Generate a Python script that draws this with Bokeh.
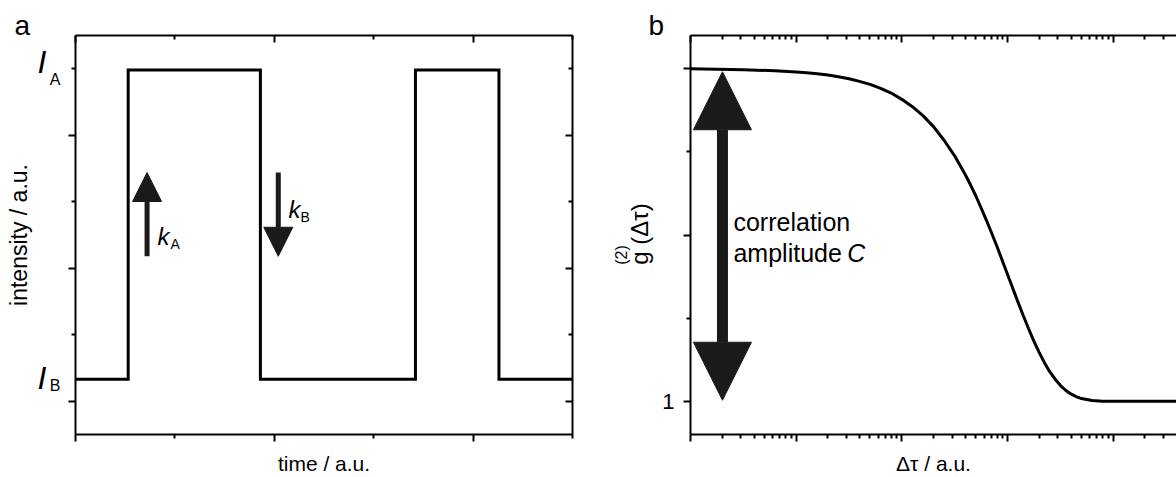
from bokeh.plotting import figure
from bokeh.layouts import row
from bokeh.models import (LinearAxis, LogAxis, FixedTicker, Label, Arrow, Title,
                          NormalHead, CustomJSTickFormatter, Range1d)
from bokeh.embed import file_html
from bokeh.resources import INLINE

FONT = "Liberation Sans"
INK = "#1a1a1a"

# ---------------- panel a: two-state intensity trace ----------------
time_edges = [0.0, 0.53, 1.86, 3.42, 4.26, 5.0]
intensity_levels = [0.33, 4.98, 0.33, 4.98, 0.33, 0.33]
a_xticks = [0, 2, 4]
a_xminor = [1, 3, 5]
a_yticks = [0, 2, 4]
a_yminor = [1, 3, 5]
# where the state labels I_A / I_B sit on the intensity axis
state_I_pos = [5.10, 0.35]
state_sub_pos = [4.84, 0.23]

# ---------------- panel b: correlation function ----------------
delta_tau = [1, 3.16, 6.31, 10, 12.59, 15.85, 19.95, 25.12, 31.62, 39.81, 50.12,
             63.1, 79.43, 100, 125.9, 158.5, 199.5, 251.2, 316.2,
             398.1, 446.7, 501.2, 562.3, 631.0, 707.9, 794.3, 891.3, 1000,
             1122, 1259, 1413, 1585, 1778, 1995, 2239, 2512, 2818, 3162, 3548,
             3981, 4467, 5012, 6310, 7943, 10000, 39811]
g2 = [2.000, 1.997, 1.994, 1.990, 1.988, 1.985, 1.981, 1.976, 1.970, 1.962, 1.953,
      1.941, 1.927, 1.908, 1.886, 1.859, 1.826, 1.785,
      1.738, 1.682, 1.651, 1.618, 1.582, 1.545, 1.506, 1.466, 1.424, 1.382,
      1.340, 1.298, 1.257, 1.218, 1.181, 1.147, 1.116, 1.089, 1.067, 1.048,
      1.033, 1.022, 1.014, 1.008, 1.002, 1.000, 1.000, 1.000]
b_yticks = [1.0, 1.5, 2.0]
b_yminor = [1.25, 1.75]
b_xticks = [1, 10, 100, 1000, 10000]
b_xminor = [m * 10 ** d for d in range(5) for m in range(2, 10)]
# positions of the pieces of the g(2)(Δτ) axis title along the y axis
title_g_pos = [1.431, 1.533]
title_sup_pos = [1.440]


def style_axis(ax, side, label_size=None):
    ax.axis_line_width = 2
    ax.axis_line_color = "black"
    ax.major_tick_line_width = 2
    ax.minor_tick_line_width = 2
    ax.major_tick_line_color = "black"
    ax.minor_tick_line_color = "black"
    if side in ("below", "left"):
        ax.major_tick_out, ax.major_tick_in = 7, 0
        ax.minor_tick_out, ax.minor_tick_in = 4, 0
    else:
        ax.major_tick_out, ax.major_tick_in = 0, 7
        ax.minor_tick_out, ax.minor_tick_in = 0, 4
    ax.axis_label_text_font = FONT
    ax.axis_label_text_font_style = "normal"
    ax.axis_label_text_color = "black"
    if label_size:
        ax.axis_label_text_font_size = label_size


def hide_labels(ax):
    ax.formatter = CustomJSTickFormatter(code="return ''")
    ax.major_label_text_font_size = "0px"
    ax.major_label_standoff = 0


def text_axis(ticks, code, size, standoff, italic=False, orientation="horizontal"):
    ax = LinearAxis(ticker=FixedTicker(ticks=ticks, minor_ticks=[]),
                    formatter=CustomJSTickFormatter(code=code))
    ax.axis_line_color = None
    ax.major_tick_line_color = None
    ax.minor_tick_line_color = None
    ax.major_tick_out = ax.major_tick_in = 0
    ax.minor_tick_out = ax.minor_tick_in = 0
    ax.major_label_text_font = FONT
    ax.major_label_text_font_size = size
    ax.major_label_text_color = "black"
    ax.major_label_text_font_style = "italic" if italic else "normal"
    ax.major_label_standoff = standoff
    ax.major_label_orientation = orientation
    ax.axis_label_text_font = FONT
    ax.axis_label_text_font_style = "normal"
    ax.axis_label_text_color = "black"
    return ax


def lab(p, x, y, text, size, italic=False):
    p.add_layout(Label(x=x, y=y, text=text, text_font=FONT,
                       text_font_size=size,
                       text_font_style="italic" if italic else "normal",
                       text_color="black", text_align="left",
                       text_baseline="alphabetic"))


def panel_title(p, text, offset):
    t = p.title
    t.text = text
    t.align = "left"
    t.offset = offset
    t.standoff = -10
    t.text_font = FONT
    t.text_font_size = "28px"
    t.text_font_style = "normal"
    t.text_color = "black"
    t.vertical_align = "bottom"
    if "padding" in Title.properties():
        t.padding = 0


# ================= panel a =================
pa = figure(width=600, height=477, x_range=Range1d(0, 5), y_range=Range1d(-0.5, 5.5),
            output_backend="svg", toolbar_location=None, title="a",
            min_border_left=75, min_border_right=28, min_border_top=35,
            min_border_bottom=41)
pa.outline_line_color = None
pa.xgrid.visible = False
pa.ygrid.visible = False
pa.background_fill_color = "white"
pa.border_fill_color = "white"
panel_title(pa, "a", -61)

xt = FixedTicker(ticks=a_xticks, minor_ticks=a_xminor)
yt = FixedTicker(ticks=a_yticks, minor_ticks=a_yminor)

bx = pa.xaxis[0]
bx.ticker = xt
bx.axis_label = "time / a.u."
bx.axis_label_standoff = 10
style_axis(bx, "below", "21px")
hide_labels(bx)

ly = pa.yaxis[0]
ly.ticker = yt
style_axis(ly, "left")
hide_labels(ly)

ax_sub = text_axis(state_sub_pos, "return tick > 2 ? 'A' : 'B'", "16px", 8)
pa.add_layout(ax_sub, "left")
ax_I = text_axis(state_I_pos, "return 'I'", "32px", 0, italic=True)
ax_I.axis_label = "intensity / a.u."
ax_I.axis_label_text_font_size = "23px"
ax_I.axis_label_standoff = 3
pa.add_layout(ax_I, "left")

tx = LinearAxis(ticker=xt)
style_axis(tx, "above")
hide_labels(tx)
pa.add_layout(tx, "above")

ry = LinearAxis(ticker=yt)
style_axis(ry, "right")
hide_labels(ry)
pa.add_layout(ry, "right")

pa.step(time_edges, intensity_levels, mode="after", line_width=3,
        line_color="black", line_join="miter")

pa.add_layout(Arrow(x_start=0.72, y_start=2.18, x_end=0.72, y_end=3.44,
                    line_width=5, line_color=INK,
                    end=NormalHead(size=29, fill_color=INK, line_color=INK, line_width=1)))
pa.add_layout(Arrow(x_start=2.04, y_start=3.44, x_end=2.04, y_end=2.18,
                    line_width=5, line_color=INK,
                    end=NormalHead(size=29, fill_color=INK, line_color=INK, line_width=1)))

lab(pa, 0.825, 2.478, "k", "24px", italic=True)
lab(pa, 0.956, 2.358, "A", "14px")
lab(pa, 2.143, 2.882, "k", "24px", italic=True)
lab(pa, 2.264, 2.777, "B", "14px")

# ================= panel b =================
pb = figure(width=576, height=477, x_axis_type="log",
            x_range=Range1d(1, 10 ** 4.6), y_range=Range1d(0.9, 2.1),
            output_backend="svg", toolbar_location=None, title="b",
            min_border_left=90, min_border_right=0, min_border_top=35,
            min_border_bottom=41)
pb.outline_line_color = None
pb.xgrid.visible = False
pb.ygrid.visible = False
pb.background_fill_color = "white"
pb.border_fill_color = "white"
panel_title(pb, "b", -42)

lxt = FixedTicker(ticks=b_xticks, minor_ticks=b_xminor)
byt = FixedTicker(ticks=b_yticks, minor_ticks=b_yminor)

bbx = pb.xaxis[0]
bbx.ticker = lxt
bbx.axis_label = "Δτ / a.u."
bbx.axis_label_standoff = 10
style_axis(bbx, "below", "21px")
hide_labels(bbx)

bly = pb.yaxis[0]
bly.ticker = byt
style_axis(bly, "left")
bly.formatter = CustomJSTickFormatter(code="return Math.abs(tick - 1) < 1e-9 ? '1' : ''")
bly.major_label_text_font = FONT
bly.major_label_text_font_size = "22px"
bly.major_label_text_color = "black"
bly.major_label_standoff = 9

ax_g = text_axis(title_g_pos, "return tick < 1.48 ? 'g' : '(Δτ)'", "24px", 6,
                 orientation="vertical")
pb.add_layout(ax_g, "left")
ax_sup = text_axis(title_sup_pos, "return '(2)'", "16px", -7, orientation="vertical")
pb.add_layout(ax_sup, "left")

btx = LogAxis(ticker=lxt)
style_axis(btx, "above")
hide_labels(btx)
pb.add_layout(btx, "above")

pb.line(delta_tau, g2, line_width=3, line_color="black")

pb.add_layout(Arrow(x_start=2.007, y_start=1.003, x_end=2.007, y_end=1.991,
                    line_width=11, line_color=INK,
                    start=NormalHead(size=58, fill_color=INK, line_color=INK, line_width=1),
                    end=NormalHead(size=58, fill_color=INK, line_color=INK, line_width=1)))

lab(pb, 2.551, 1.539, "correlation", "25px")
lab(pb, 2.551, 1.446, "amplitude", "25px")
lab(pb, 30.5, 1.446, "C", "25px", italic=True)

layout = row(pa, pb)
open("out.html", "w").write(file_html(layout, INLINE))
